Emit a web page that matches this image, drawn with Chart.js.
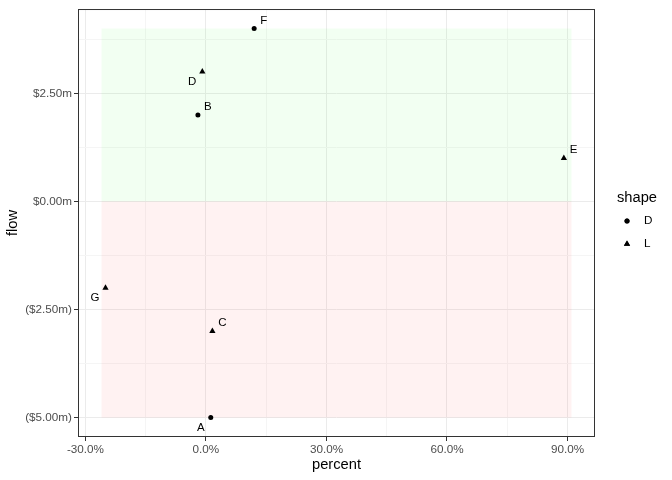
<!DOCTYPE html>
<html>
<head>
<meta charset="utf-8">
<script src="https://cdn.jsdelivr.net/npm/chart.js@4/dist/chart.umd.min.js"></script>
<style>
  html, body { margin: 0; padding: 0; background: #fff; }
  #wrap { width: 672px; height: 480px; }
</style>
</head>
<body>
<div id="wrap"><canvas id="chart" width="672" height="480"></canvas></div>
<script>
// data
const names   = ['A', 'B', 'C', 'D', 'E', 'F', 'G'];
const percent = [1.2, -2.0, 1.6, -0.9, 89.1, 12.0, -25.0];
const flow    = [-5, 2, -3, 3, 1, 4, -2];
const shapes  = ['D', 'D', 'L', 'L', 'L', 'D', 'L'];
const labelSide = ['ll', 'ur', 'ur', 'll', 'ur', 'ur', 'll'];

// shaded bands (percent span, flow span)
const bandX = [-26, 91];
const bandPos = [0, 4];
const bandNeg = [-5, 0];

const xTicks = [-30, 0, 30, 60, 90];
const xMinor = [-15, 15, 45, 75];
const yTicks = [-5, -2.5, 0, 2.5];
const yMinor = [-3.75, -1.25, 1.25, 3.75];

const FONT = "'Liberation Sans', Arial, sans-serif";

function pts(shape) {
    const out = [];
    names.forEach((n, i) => {
        if (shapes[i] === shape) out.push({ x: percent[i], y: flow[i], name: n, side: labelSide[i] });
    });
    return out;
}

const fmtFlow = (v) => v < 0 ? '($' + Math.abs(v).toFixed(2) + 'm)' : '$' + v.toFixed(2) + 'm';

const bandsPlugin = {
    id: 'bands',
    beforeDatasetsDraw(chart) {
        const { ctx, scales: { x, y } } = chart;
        const x0 = x.getPixelForValue(bandX[0]), x1 = x.getPixelForValue(bandX[1]);
        ctx.save();
        ctx.fillStyle = 'rgba(0,255,0,0.05)';
        let a = y.getPixelForValue(bandPos[1]), b = y.getPixelForValue(bandPos[0]);
        ctx.fillRect(x0, a, x1 - x0, b - a);
        ctx.fillStyle = 'rgba(255,0,0,0.05)';
        a = y.getPixelForValue(bandNeg[1]); b = y.getPixelForValue(bandNeg[0]);
        ctx.fillRect(x0, a, x1 - x0, b - a);
        ctx.restore();
    }
};

const labelsPlugin = {
    id: 'pointLabels',
    afterDatasetsDraw(chart) {
        const { ctx, scales: { x, y } } = chart;
        ctx.save();
        ctx.font = '11.5px ' + FONT;
        ctx.fillStyle = '#000';
        ctx.textBaseline = 'middle';
        chart.data.datasets.forEach(ds => {
            ds.data.forEach(p => {
                const px = x.getPixelForValue(p.x), py = y.getPixelForValue(p.y);
                if (p.side === 'ur') {
                    ctx.textAlign = 'left';
                    ctx.fillText(p.name, px + 6, py - 8);
                } else {
                    ctx.textAlign = 'right';
                    ctx.fillText(p.name, px - 6, py + 10);
                }
            });
        });
        ctx.restore();
    }
};

const frameLegendPlugin = {
    id: 'frameLegend',
    afterDraw(chart) {
        const { ctx, chartArea: a } = chart;
        ctx.save();
        ctx.strokeStyle = '#333333';
        ctx.lineWidth = 1;
        ctx.strokeRect(a.left + 0.5, a.top + 0.5, a.right - a.left - 1, a.bottom - a.top - 1);

        // legend
        ctx.fillStyle = '#000';
        ctx.font = '14.7px ' + FONT;
        ctx.textAlign = 'left';
        ctx.textBaseline = 'middle';
        ctx.fillText('shape', 617, 198);
        ctx.font = '11.7px ' + FONT;
        const items = [['D', 'circle', 2.5], ['L', 'triangle', 3.6]];
        items.forEach((it, i) => {
            const cy = 221 + i * 23;
            Chart.helpers.drawPoint(ctx, { pointStyle: it[1], radius: it[2], rotation: 0, borderWidth: 0 }, 627, cy);
            ctx.fill();
            ctx.fillText(it[0], 644, cy);
        });
        ctx.restore();
    }
};

new Chart(document.getElementById('chart').getContext('2d'), {
    type: 'scatter',
    data: {
        datasets: [{
            label: 'D',
            data: pts('D'),
            pointStyle: 'circle',
            pointRadius: 2.5,
            backgroundColor: '#000',
            borderWidth: 0,
        }, {
            label: 'L',
            data: pts('L'),
            pointStyle: 'triangle',
            pointRadius: 3.6,
            backgroundColor: '#000',
            borderWidth: 0,
        }]
    },
    plugins: [bandsPlugin, labelsPlugin, frameLegendPlugin],
    options: {
        responsive: false,
        animation: false,
        layout: { padding: { top: 7, right: 77, left: 0, bottom: 0 } },
        plugins: {
            legend: { display: false },
            tooltip: { enabled: false },
        },
        scales: {
            x: {
                type: 'linear',
                min: -31.85,
                max: 96.85,
                afterBuildTicks: (s) => { s.ticks = [...xTicks, ...xMinor].sort((a, b) => a - b).map(v => ({ value: v })); },
                afterFit: (s) => { s.height = 43; },
                grid: {
                    color: (c) => xMinor.includes(c.tick.value) ? '#f5f5f5' : '#ebebeb',
                    tickColor: (c) => xMinor.includes(c.tick.value) ? 'rgba(0,0,0,0)' : '#333333',
                    tickLength: 4,
                    lineWidth: 1,
                },
                border: { display: false },
                ticks: {
                    autoSkip: false,
                    maxRotation: 0,
                    padding: 2,
                    color: '#4d4d4d',
                    font: { family: FONT, size: 11.7 },
                    callback: (v) => xMinor.includes(v) ? '' : v.toFixed(1) + '%',
                },
                title: {
                    display: true,
                    text: 'percent',
                    color: '#000',
                    font: { family: FONT, size: 14.7 },
                    padding: { top: 0, bottom: 6 },
                }
            },
            y: {
                type: 'linear',
                min: -5.45,
                max: 4.45,
                afterBuildTicks: (s) => { s.ticks = [...yTicks, ...yMinor].sort((a, b) => a - b).map(v => ({ value: v })); },
                afterFit: (s) => { s.width = 78; },
                grid: {
                    color: (c) => yMinor.includes(c.tick.value) ? '#f5f5f5' : '#ebebeb',
                    tickColor: (c) => yMinor.includes(c.tick.value) ? 'rgba(0,0,0,0)' : '#333333',
                    tickLength: 4,
                    lineWidth: 1,
                },
                border: { display: false },
                ticks: {
                    autoSkip: false,
                    padding: 2,
                    color: '#4d4d4d',
                    font: { family: FONT, size: 11.7 },
                    callback: (v) => yMinor.includes(v) ? '' : fmtFlow(v),
                },
                title: {
                    display: true,
                    text: 'flow',
                    color: '#000',
                    font: { family: FONT, size: 14.7 },
                    padding: { top: 4, bottom: 0 },
                }
            }
        }
    }
});
</script>
</body>
</html>
